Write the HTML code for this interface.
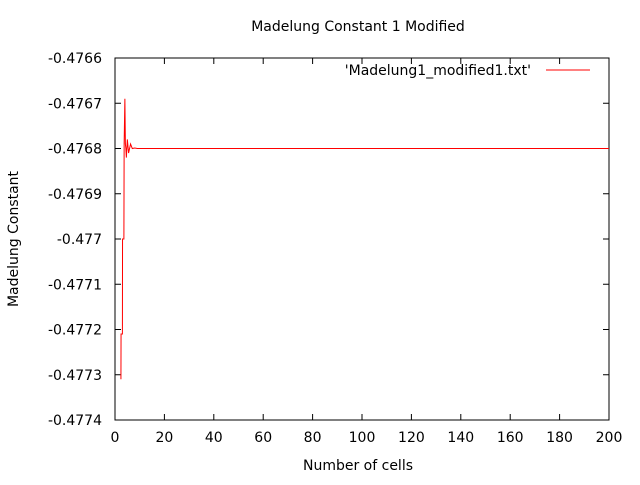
<!DOCTYPE html>
<html><head><meta charset="utf-8"><style>
body{margin:0;background:#fff}
svg text{font-family:"DejaVu Sans","Liberation Sans",sans-serif;font-size:14px;fill:#000}
</style></head><body>
<svg width="640" height="480" id="c">
<text x="358" y="31" text-anchor="middle">Madelung Constant 1 Modified</text>
<text x="358" y="470" text-anchor="middle">Number of cells</text>
<text transform="translate(18,239) rotate(-90)" text-anchor="middle">Madelung Constant</text>
<rect x="115" y="58" width="494" height="362" fill="none" stroke="#000"/>
<g id="ticks"></g>
<text x="531" y="75" text-anchor="end">'Madelung1_modified1.txt'</text>
<line x1="546" y1="70" x2="590" y2="70" stroke="#f00"/>
<polyline id="series" fill="none" stroke="#f00" stroke-width="1"/>
</svg>
<script>
const xTicks=[0,20,40,60,80,100,120,140,160,180,200];
const yTicks=[-0.4766,-0.4767,-0.4768,-0.4769,-0.477,-0.4771,-0.4772,-0.4773,-0.4774];
const yTickLabels=["-0.4766","-0.4767","-0.4768","-0.4769","-0.477","-0.4771","-0.4772","-0.4773","-0.4774"];
const cells=[2.4,2.45,3.0,3.05,3.6,3.7,4.0,4.2,4.4,4.6,5.0,5.5,6.3,7,8,9,200];
const values=[-0.47731,-0.47721,-0.47721,-0.47700,-0.47700,-0.47679,-0.47669,-0.47679,-0.47680,-0.47682,-0.47678,-0.47681,-0.47679,-0.47680,-0.476799,-0.4768,-0.4768];
const X=v=>115+v/200*494;
const Y=v=>58+(-0.4766-v)/0.0008*362;
const ns="http://www.w3.org/2000/svg";
const g=document.getElementById('ticks');
xTicks.forEach(t=>{
 const x=X(t);
 for(const [a,b] of [[420,414],[58,64]]){const l=document.createElementNS(ns,'line');
 l.setAttribute('x1',x);l.setAttribute('x2',x);l.setAttribute('y1',a);l.setAttribute('y2',b);l.setAttribute('stroke','#000');
 
 g.appendChild(l);}
 const tx=document.createElementNS(ns,'text');tx.setAttribute('x',x);tx.setAttribute('y',442);tx.setAttribute('text-anchor','middle');tx.textContent=t;
 
 g.appendChild(tx);
});
yTicks.forEach((t,i)=>{
 const y=Y(t);
 for(const [a,b] of [[115,121],[609,603]]){const l=document.createElementNS(ns,'line');
 l.setAttribute('x1',a);l.setAttribute('x2',b);l.setAttribute('y1',y);l.setAttribute('y2',y);l.setAttribute('stroke','#000');
 
 g.appendChild(l);}
 const tx=document.createElementNS(ns,'text');tx.setAttribute('x',102);tx.setAttribute('y',y+5);tx.setAttribute('text-anchor','end');tx.textContent=yTickLabels[i];
 
 g.appendChild(tx);
});
document.getElementById('series').setAttribute('points',cells.map((c,i)=>X(c)+','+Y(values[i])).join(' '));
</script>
</body></html>
